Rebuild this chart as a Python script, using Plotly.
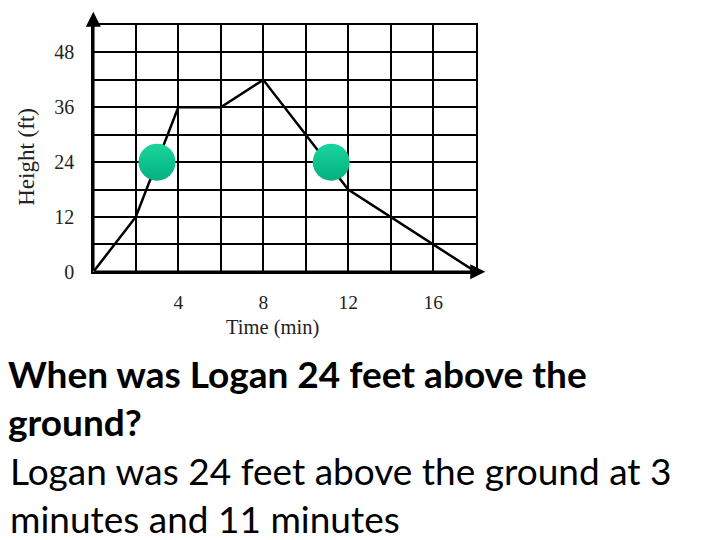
import plotly.graph_objects as go

# Data
time_min = [0, 2, 4, 6, 8, 12, 18]
height_ft = [0, 12, 36, 36, 42, 18, 0]
marker_time = [3, 11.2]
marker_height = [24, 24]
x_ticks = [4, 8, 12, 16]
y_ticks = [0, 12, 24, 36, 48]

W, H = 720, 540
x0px, x1px = 93.3, 475.7
y0px, y1px = 277.5, 25.5

fig = go.Figure()
fig.add_trace(go.Scatter(x=time_min, y=height_ft, mode="lines",
                         line=dict(color="black", width=2.5), cliponaxis=False,
                         hoverinfo="skip"))
fig.add_trace(go.Scatter(x=marker_time, y=marker_height, mode="markers",
                         marker=dict(size=37, color="#1ad59e",
                                     gradient=dict(type="vertical", color="#03b07f"),
                                     line=dict(width=0)),
                         cliponaxis=False, hoverinfo="skip"))

serif = "Liberation Serif"
fig.update_xaxes(range=[0, 18], domain=[x0px / W, x1px / W],
                 tickvals=x_ticks, ticktext=[str(v) for v in x_ticks],
                 showgrid=True, gridcolor="black", gridwidth=2,
                 minor=dict(dtick=2, tick0=0, showgrid=True, gridcolor="black", gridwidth=2),
                 showline=True, linecolor="black", linewidth=2, mirror=True,
                 zeroline=False, ticks="", ticklabelstandoff=12,
                 tickfont=dict(family=serif, size=19.5, color="#222"))
fig.update_yaxes(range=[0, 54], domain=[(H - y0px) / H, (H - y1px) / H],
                 tickvals=y_ticks, ticktext=[str(v) for v in y_ticks],
                 showgrid=True, gridcolor="black", gridwidth=2,
                 minor=dict(dtick=6, tick0=0, showgrid=True, gridcolor="black", gridwidth=2),
                 showline=True, linecolor="black", linewidth=2, mirror=True,
                 zeroline=False, ticks="", ticklabelstandoff=13,
                 tickfont=dict(family=serif, size=20, color="#222"))

ann = []
# axis arrows
ann.append(dict(x=18.45, y=0, ax=0, ay=0, xref="x", yref="y", axref="x", ayref="y",
                showarrow=True, arrowhead=2, arrowsize=1.2, arrowwidth=2.5,
                arrowcolor="black", text=""))
ann.append(dict(x=0, y=56.9, ax=0, ay=0, xref="x", yref="y", axref="x", ayref="y",
                showarrow=True, arrowhead=2, arrowsize=1.2, arrowwidth=2.5,
                arrowcolor="black", text=""))
# axis titles
ann.append(dict(x=272 / W, y=1 - 334 / H, xref="paper", yref="paper", showarrow=False,
                text="Time (min)", font=dict(family=serif, size=20.5, color="#222"),
                xanchor="center", yanchor="middle"))
ann.append(dict(x=27 / W, y=1 - 160 / H, xref="paper", yref="paper", showarrow=False,
                text="Height (ft)", textangle=-90, font=dict(family=serif, size=23, color="#222"),
                xanchor="center", yanchor="middle"))

# text lines
text_font = "Lato"
lines = [
    ("<b>When was Logan 24 feet above the</b>", 6, 381),
    ("<b>ground?</b>", 6, 430.5),
    ("Logan was 24 feet above the ground at 3", 8, 480),
    ("minutes and 11 minutes", 8, 529.5),
]
for t, xp, yp in lines:
    ann.append(dict(x=xp / W, y=1 - yp / H, xref="paper", yref="paper", showarrow=False,
                    text=t, xanchor="left", yanchor="middle",
                    font=dict(family=text_font, size=37, color="black")))

fig.update_layout(width=W, height=H, margin=dict(l=0, r=0, t=0, b=0),
                  plot_bgcolor="white", paper_bgcolor="white", showlegend=False,
                  annotations=ann)

fig.write_html("out.html", config={"displayModeBar": False},
               post_script="document.body.style.margin='0';document.body.style.padding='0';")
